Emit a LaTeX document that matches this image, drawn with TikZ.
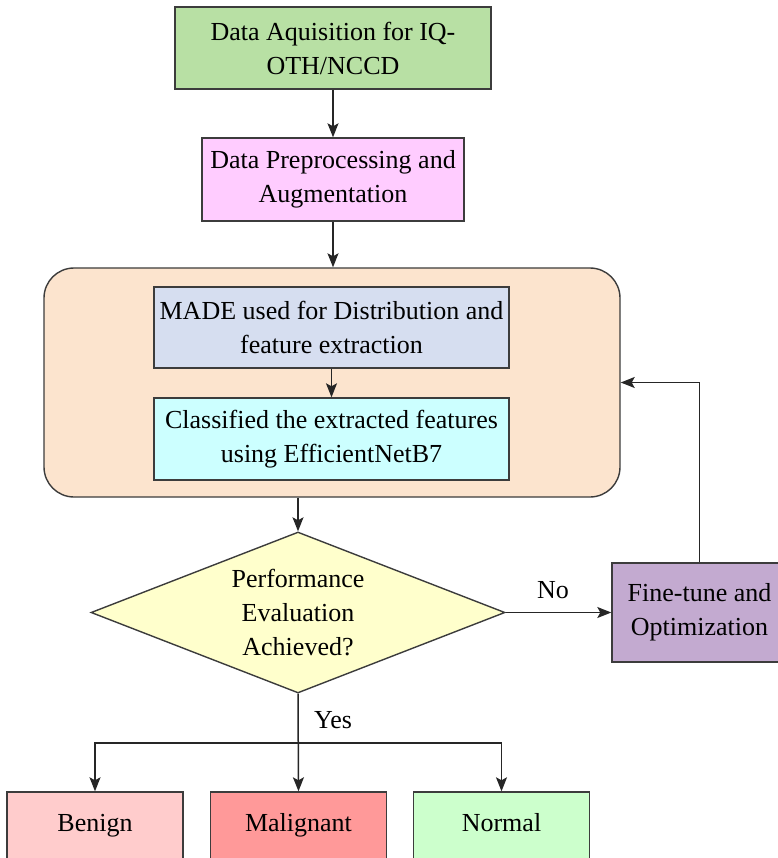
\documentclass[tikz,border=0pt]{standalone}
\usepackage{fontspec}
\setmainfont{Liberation Serif}
\usetikzlibrary{shapes.geometric,arrows.meta}
\definecolor{edgec}{RGB}{60,60,60}
\definecolor{cAcq}{RGB}{184,224,164}
\definecolor{cPre}{RGB}{255,204,255}
\definecolor{cGrp}{RGB}{252,228,206}
\definecolor{cMade}{RGB}{214,222,240}
\definecolor{cCls}{RGB}{204,255,255}
\definecolor{cDec}{RGB}{255,255,204}
\definecolor{cFine}{RGB}{195,170,208}
\definecolor{cBen}{RGB}{255,204,204}
\definecolor{cMal}{RGB}{255,153,153}
\definecolor{cNor}{RGB}{204,255,204}
\begin{document}
\begin{tikzpicture}[x=1pt,y=-1pt,
  box/.style={draw=edgec,line width=1.4pt,align=center,inner sep=0pt,
              font=\fontsize{26}{34}\selectfont},
  leaf/.style={box,minimum width=176pt,minimum height=67pt,
              text height=18pt,text depth=6pt},
  arr/.style={draw=black!85,line width=1.5pt,
              -{Stealth[length=14pt,width=11pt,inset=3pt]}},
  lbl/.style={font=\fontsize{26}{34}\selectfont,inner sep=0pt}]
\useasboundingbox (0,0) rectangle (777,858);
\node[box,fill=cGrp,rounded corners=30pt,minimum width=576pt,minimum height=229pt] (grp) at (332,382.5) {};
\node[box,fill=cAcq,minimum width=316pt,minimum height=82pt] (acq) at (333,48) {Data Aquisition for IQ-\\OTH/NCCD};
\node[box,fill=cPre,minimum width=262pt,minimum height=83pt] (pre) at (333,179.5) {Data Preprocessing and\\Augmentation};
\node[box,fill=cMade,minimum width=355pt,minimum height=81pt] (made) at (331.5,327.5) {MADE used for Distribution and\\feature extraction};
\node[box,fill=cCls,minimum width=355pt,minimum height=82pt] (cls) at (331.5,439) {Classified the extracted features\\using EfficientNetB7};
\node[box,diamond,aspect=2.57,fill=cDec,minimum width=414pt,minimum height=161pt] (dec) at (298,612.5) {Performance\\Evaluation\\Achieved?};
\node[box,fill=cFine,minimum width=175pt,minimum height=99pt] (fine) at (699.5,612.5) {Fine-tune and\\Optimization};
\node[leaf,fill=cBen] (ben) at (95,825.5) {Benign};
\node[leaf,fill=cMal] (mal) at (298.5,825.5) {Malignant};
\node[leaf,fill=cNor] (nor) at (501.5,825.5) {Normal};
\node[lbl] (no) at (553,590) {No};
\node[lbl] (yes) at (333,720) {Yes};
\coordinate (jn) at (298,743);
\draw[arr] (acq.south) -- (pre.north);
\draw[arr] (pre.south) -- (pre.south |- grp.north);
\draw[arr] (made.south) -- (cls.north);
\draw[arr] (dec.north |- grp.south) -- (dec.north);
\draw[arr] (dec.east) -- (fine.west);
\draw[arr] (fine.north) |- (grp.east);
\draw[arr] (dec.south) -- (mal.north);
\draw[arr] (jn) -| (ben.north);
\draw[arr] (jn) -| (nor.north);
\end{tikzpicture}
\end{document}
